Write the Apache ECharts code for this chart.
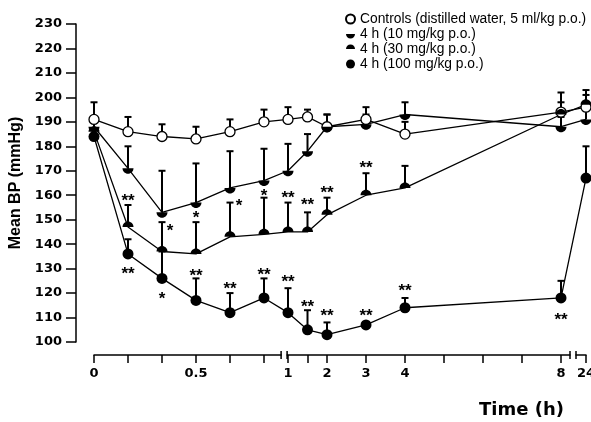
<!DOCTYPE html>
<html>
<head>
<meta charset="utf-8">
<script src="https://cdn.jsdelivr.net/npm/echarts@6/dist/echarts.min.js"></script>
<style>
  html, body { margin: 0; padding: 0; background: #fff; }
  #chart { width: 591px; height: 422px; }
</style>
</head>
<body>
<div id="chart"></div>
<script>
// sampling times (h)
var times = [0, 1/6, 2/6, 3/6, 4/6, 5/6, 1, 1.5, 2, 3, 4, 8, 24];

var seriesNames = ['Controls (distilled water, 5 ml/kg p.o.)', '4 h (10 mg/kg p.o.)', '4 h (30 mg/kg p.o.)', '4 h (100 mg/kg p.o.)'];

// mean BP (mmHg) and upper error (SEM)
var ctrlMean = [191, 186, 184, 183, 186, 190, 191, 192, 188, 191, 185, 194, 196];
var ctrlErr = [7, 6, 5, 5, 5, 5, 5, 3, 5, 5, 5, 8, 5];
var mg10Mean = [188, 171, 153, 157, 163, 166, 170, 178, 188, 189, 193, 188, 191];
var mg10Err = [4, 9, 17, 16, 15, 13, 11, 7, 5, 4, 5, 4, 4];
var mg30Mean = [186, 147, 137, 136, 143, 144, 145, 145, 152, 160, 163, 193, 197];
var mg30Err = [4, 9, 12, 13, 14, 15, 12, 8, 7, 9, 9, 5, 6];
var mg100Mean = [184, 136, 126, 117, 112, 118, 112, 105, 103, 107, 114, 118, 167];
var mg100Err = [3, 6, 11, 9, 8, 8, 10, 8, 5, 0, 4, 7, 13];

// axis ticks / labels (h)
var tickTimes = [0, 1/6, 2/6, 3/6, 4/6, 5/6, 1, 1.5, 2, 3, 4, 5, 6, 7, 8, 24];
var labelTimes = [0, 0.5, 1, 2, 3, 4, 8, 24];
var labelTexts = ['0', '0.5', '1', '2', '3', '4', '8', '24'];
var breakTimes = [0.9, 16];

// significance marks: [time h, level mmHg, text]
var sigMarks = [
  [1/6, 159, '**'], [0.373, 147, '*'], [0.5, 152, '*'], [0.711, 157, '*'], [5/6, 161, '*'],
  [1, 160.5, '**'], [1.5, 157.5, '**'], [2, 162.5, '**'], [3, 172.5, '**'],
  [1/6, 129.5, '**'], [2/6, 119, '*'], [0.5, 128.5, '**'], [4/6, 123, '**'], [5/6, 129, '**'],
  [1, 126, '**'], [1.5, 116, '**'], [2, 112, '**'], [3, 112, '**'], [4, 122.5, '**'], [8, 110.5, '**']
];

// broken time scale -> axis units
function toAxis(t) {
  if (t < 0.9) return t * 204;
  if (t <= 8) return 194 + (t - 1) * 39;
  if (t < 24) return 479;
  return 492;
}

// half discs inside a square box (the lone moveTo keeps the box square)
var halfDown = 'path://M0,0 M0,5 C0,7.76 2.24,10 5,10 C7.76,10 10,7.76 10,5 Z';
var halfUp = 'path://M0,10 M0,5 C0,2.24 2.24,0 5,0 C7.76,0 10,2.24 10,5 Z';

function pts(mean) {
  return times.map(function (t, i) { return [toAxis(t), mean[i]]; });
}
function errPts(mean, err) {
  return times.map(function (t, i) { return [toAxis(t), mean[i], err[i]]; });
}

function renderErr(params, api) {
  var e = api.value(2);
  if (!e) return;
  var p0 = api.coord([api.value(0), api.value(1)]);
  var p1 = api.coord([api.value(0), api.value(1) + e]);
  var st = { stroke: '#000', lineWidth: 2 };
  return {
    type: 'group',
    children: [
      { type: 'line', shape: { x1: p0[0], y1: p0[1], x2: p1[0], y2: p1[1] }, style: st },
      { type: 'line', shape: { x1: p1[0] - 3.5, y1: p1[1], x2: p1[0] + 3.5, y2: p1[1] }, style: st }
    ]
  };
}

function renderSig(params, api) {
  var p = api.coord([api.value(0), api.value(1)]);
  return {
    type: 'text',
    x: p[0], y: p[1] + 4,
    style: {
      text: sigMarks[params.dataIndex][2],
      font: 'bold 17px "Liberation Sans"',
      fill: '#000',
      align: 'center',
      verticalAlign: 'middle'
    }
  };
}

function lineSeries(name, mean, symbol, size, fill) {
  return {
    name: name,
    type: 'line',
    data: pts(mean),
    symbol: symbol,
    symbolSize: size,
    showSymbol: true,
    z: 5,
    lineStyle: { color: '#000', width: 1.3 },
    itemStyle: { color: fill, borderColor: '#000', borderWidth: fill === '#fff' ? 1.3 : 0 },
    emphasis: { disabled: true },
    animation: false
  };
}

function errSeries(mean, err) {
  return {
    type: 'custom',
    name: 'err',
    data: errPts(mean, err),
    renderItem: renderErr,
    z: 3,
    silent: true,
    animation: false
  };
}

var chart = echarts.init(document.getElementById('chart'));

var option = {
  backgroundColor: '#fff',
  animation: false,
  grid: { left: 94, right: 5, top: 24, bottom: 80, outerBoundsMode: 'none' },
  legend: {
    orient: 'vertical',
    left: 340,
    top: 7,
    itemWidth: 9,
    itemHeight: 9,
    itemGap: 1,
    selectedMode: false,
    textStyle: { fontFamily: 'Liberation Sans', fontSize: 13.8, color: '#000', lineHeight: 14 },
    data: [
      { name: seriesNames[0], icon: 'circle' },
      { name: seriesNames[1], icon: halfDown },
      { name: seriesNames[2], icon: halfUp },
      { name: seriesNames[3], icon: 'circle' }
    ]
  },
  xAxis: {
    type: 'value',
    min: 0,
    max: toAxis(24),
    offset: 13,
    splitLine: { show: false },
    axisLine: { show: true, onZero: false, lineStyle: { color: '#000', width: 1.5 } },
    axisTick: {
      show: true, length: 8,
      lineStyle: { color: '#000', width: 1.5 },
      customValues: tickTimes.map(toAxis)
    },
    axisLabel: {
      customValues: labelTimes.map(toAxis),
      margin: 12,
      color: '#000',
      fontFamily: 'DejaVu Sans',
      fontWeight: 'bold',
      fontSize: 13,
      formatter: function (v) {
        for (var i = 0; i < labelTimes.length; i++) {
          if (Math.abs(toAxis(labelTimes[i]) - v) < 0.5) return labelTexts[i];
        }
        return '';
      }
    }
  },
  yAxis: {
    type: 'value',
    min: 100,
    max: 230,
    interval: 10,
    offset: 18,
    name: 'Mean BP (mmHg)',
    nameLocation: 'middle',
    nameGap: 47,
    nameTextStyle: { fontFamily: 'Liberation Sans', fontWeight: 'bold', fontSize: 16, color: '#000' },
    splitLine: { show: false },
    axisLine: { show: true, onZero: false, lineStyle: { color: '#000', width: 1.5 } },
    axisTick: { show: true, length: 10, lineStyle: { color: '#000', width: 1.5 } },
    axisLabel: { margin: 14, color: '#000', fontFamily: 'DejaVu Sans', fontWeight: 'bold', fontSize: 13 }
  },
  series: [
    errSeries(ctrlMean, ctrlErr),
    errSeries(mg10Mean, mg10Err),
    errSeries(mg30Mean, mg30Err),
    errSeries(mg100Mean, mg100Err),
    lineSeries(seriesNames[3], mg100Mean, 'circle', 11, '#000'),
    lineSeries(seriesNames[0], ctrlMean, 'circle', 10, '#fff'),
    lineSeries(seriesNames[2], mg30Mean, halfUp, 11, '#000'),
    lineSeries(seriesNames[1], mg10Mean, halfDown, 11, '#000'),
    {
      type: 'custom',
      name: 'sig',
      data: sigMarks.map(function (m) { return [toAxis(m[0]), m[1]]; }),
      renderItem: renderSig,
      silent: true,
      z: 6,
      animation: false
    }
  ]
};

chart.setOption(option);

// break marks on the time axis
var yAxisPix = chart.convertToPixel({ gridIndex: 0 }, [0, 100])[1] + 13;
var breaks = [];
breakTimes.forEach(function (bt) {
  var cx = chart.convertToPixel({ gridIndex: 0 }, [toAxis(bt), 100])[0];
  breaks.push({ type: 'rect', z: 100, shape: { x: cx - 2.5, y: yAxisPix - 2, width: 5, height: 4 }, style: { fill: '#fff' } });
  breaks.push({ type: 'line', z: 101, shape: { x1: cx - 3, y1: yAxisPix - 4, x2: cx - 3, y2: yAxisPix + 4 }, style: { stroke: '#000', lineWidth: 1.5 } });
  breaks.push({ type: 'line', z: 101, shape: { x1: cx + 3, y1: yAxisPix - 4, x2: cx + 3, y2: yAxisPix + 4 }, style: { stroke: '#000', lineWidth: 1.5 } });
});
breaks.push({
  type: 'text', z: 100, right: 27, top: 401,
  style: { text: 'Time (h)', font: 'bold 18px "DejaVu Sans"', fill: '#000' }
});
chart.setOption({ graphic: breaks });
</script>
</body>
</html>
